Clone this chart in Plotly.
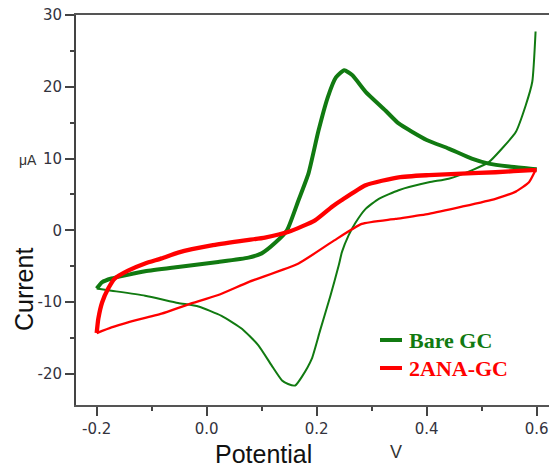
import plotly.graph_objects as go

# ---- data ----
bare_fwd_x = [-0.2, -0.19, -0.173, -0.112, -0.052, 0.021, 0.076, 0.1, 0.125, 0.146, 0.167, 0.185, 0.203,
              0.22, 0.235, 0.25, 0.265, 0.289, 0.325, 0.349, 0.4, 0.44, 0.482, 0.513, 0.55, 0.589, 0.6]
bare_fwd_y = [-8.1, -7.2, -6.7, -5.7, -5.1, -4.4, -3.8, -3.2, -1.7, 0.0, 4.2, 7.9, 13.8,
              18.5, 21.3, 22.3, 21.6, 19.3, 16.7, 14.9, 12.6, 11.4, 10.0, 9.3, 8.9, 8.6, 8.5]
bare_rev_x = [0.598, 0.592, 0.58, 0.562, 0.537, 0.513, 0.483, 0.44, 0.404, 0.349, 0.313, 0.289, 0.27,
              0.258, 0.246, 0.24, 0.225, 0.206, 0.191, 0.173, 0.161, 0.148, 0.137, 0.118, 0.094, 0.064,
              0.027, -0.015, -0.052, -0.112, -0.173, -0.2]
bare_rev_y = [27.7, 20.7, 17.4, 13.7, 11.4, 9.5, 8.4, 7.2, 6.7, 5.6, 4.4, 3.0, 1.0,
              -0.7, -3.0, -4.9, -9.1, -14.0, -17.9, -20.4, -21.6, -21.4, -20.9, -18.8, -16.0, -13.7,
              -11.9, -10.6, -10.1, -9.1, -8.4, -8.1]
ana_fwd_x = [-0.2, -0.197, -0.19, -0.179, -0.167, -0.143, -0.112, -0.082, -0.052, 0.009, 0.07, 0.106,
             0.149, 0.197, 0.228, 0.245, 0.289, 0.349, 0.404, 0.464, 0.525, 0.592, 0.6]
ana_fwd_y = [-14.3, -12.3, -10.0, -8.1, -6.7, -5.6, -4.6, -3.9, -3.1, -2.1, -1.4, -1.0,
             -0.2, 1.4, 3.3, 4.2, 6.3, 7.4, 7.7, 7.9, 8.1, 8.4, 8.4]
ana_rev_x = [0.598, 0.586, 0.562, 0.525, 0.464, 0.404, 0.343, 0.282, 0.228, 0.167, 0.076, 0.021,
             -0.033, -0.082, -0.143, -0.173, -0.2]
ana_rev_y = [8.4, 6.7, 5.4, 4.4, 3.3, 2.3, 1.6, 0.9, -1.6, -4.6, -7.2, -9.0,
             -10.3, -11.6, -12.8, -13.5, -14.3]

x_tick_vals = [-0.2, 0.0, 0.2, 0.4, 0.6]
x_tick_text = ["-0.2", "0.0", "0.2", "0.4", "0.6"]
y_tick_vals = [-20, -10, 0, 10, 20, 30]
y_tick_text = ["-20", "-10", "0", "10", "20", "30"]
series_names = ["Bare GC", "2ANA-GC"]

GREEN = "#117a11"
RED = "#ff0000"

W, H = 549, 470
ML, MT, MR, MB = 76, 15, 0, 65
PW, PH = W - ML - MR, H - MT - MB


def px(xp):
    return (xp - ML) / PW


def py(yp):
    return 1 - (yp - MT) / PH


fig = go.Figure()
SM = 0.5
fig.add_trace(go.Scatter(x=bare_rev_x, y=bare_rev_y, mode="lines",
                         line=dict(color=GREEN, width=2, shape="spline", smoothing=SM), showlegend=False))
fig.add_trace(go.Scatter(x=ana_rev_x, y=ana_rev_y, mode="lines",
                         line=dict(color=RED, width=2.3, shape="spline", smoothing=SM), showlegend=False))
fig.add_trace(go.Scatter(x=bare_fwd_x, y=bare_fwd_y, mode="lines",
                         line=dict(color=GREEN, width=4, shape="spline", smoothing=SM),
                         name=series_names[0], showlegend=False))
fig.add_trace(go.Scatter(x=ana_fwd_x, y=ana_fwd_y, mode="lines",
                         line=dict(color=RED, width=4.3, shape="spline", smoothing=SM),
                         name=series_names[1], showlegend=False))

tickfont = dict(family="DejaVu Sans", size=15, color="#33333d")
fig.update_xaxes(range=[-0.2376, 0.6224], showline=True, linecolor="#555", linewidth=2, mirror=True,
                 ticks="outside", ticklen=9, tickwidth=1.5, tickcolor="#444",
                 tickvals=x_tick_vals, ticktext=x_tick_text, tickfont=tickfont,
                 ticklabeloverflow="allow", showgrid=False, zeroline=False,
                 minor=dict(dtick=0.1, tick0=-0.2, ticks="outside", ticklen=4, tickwidth=1.5,
                            tickcolor="#444", showgrid=False))
fig.update_yaxes(range=[-24.32, 30], showline=True, linecolor="#444", linewidth=2,
                 ticks="outside", ticklen=9, tickwidth=1.5, tickcolor="#444",
                 tickvals=y_tick_vals, ticktext=y_tick_text, tickfont=tickfont,
                 showgrid=False, zeroline=False,
                 minor=dict(dtick=5, tick0=0, ticks="outside", ticklen=4, tickwidth=1.5,
                            tickcolor="#444", showgrid=False))

ann = []


def label(text, xp, yp, size, color, angle=0, family="Liberation Sans", xanchor="center"):
    ann.append(dict(text=text, x=px(xp), y=py(yp), xref="paper", yref="paper", showarrow=False,
                    xanchor=xanchor, yanchor="middle", textangle=angle,
                    font=dict(family=family, size=size, color=color)))


label("Current", 24, 290, 25, "#111", angle=-90)
label("μA", 28, 160, 14, "#333")
label("Potential", 263, 454, 25, "#111")
label("V", 396, 452, 18, "#333")

shapes = []
for name, col, yy in [(series_names[0], GREEN, 340), (series_names[1], RED, 368)]:
    shapes.append(dict(type="line", xref="paper", yref="paper", x0=px(380), x1=px(402), y0=py(yy), y1=py(yy),
                       line=dict(color=col, width=4)))
    label("<b>%s</b>" % name, 407, yy, 22, col, family="Liberation Serif", xanchor="left")

fig.update_layout(width=W, height=H, margin=dict(l=ML, r=MR, t=MT, b=MB, autoexpand=False),
                  paper_bgcolor="white", plot_bgcolor="white", annotations=ann, shapes=shapes,
                  showlegend=False)
fig.write_html("out.html", config={"displayModeBar": False},
               post_script="document.body.style.margin='0';document.body.style.overflow='hidden';")
